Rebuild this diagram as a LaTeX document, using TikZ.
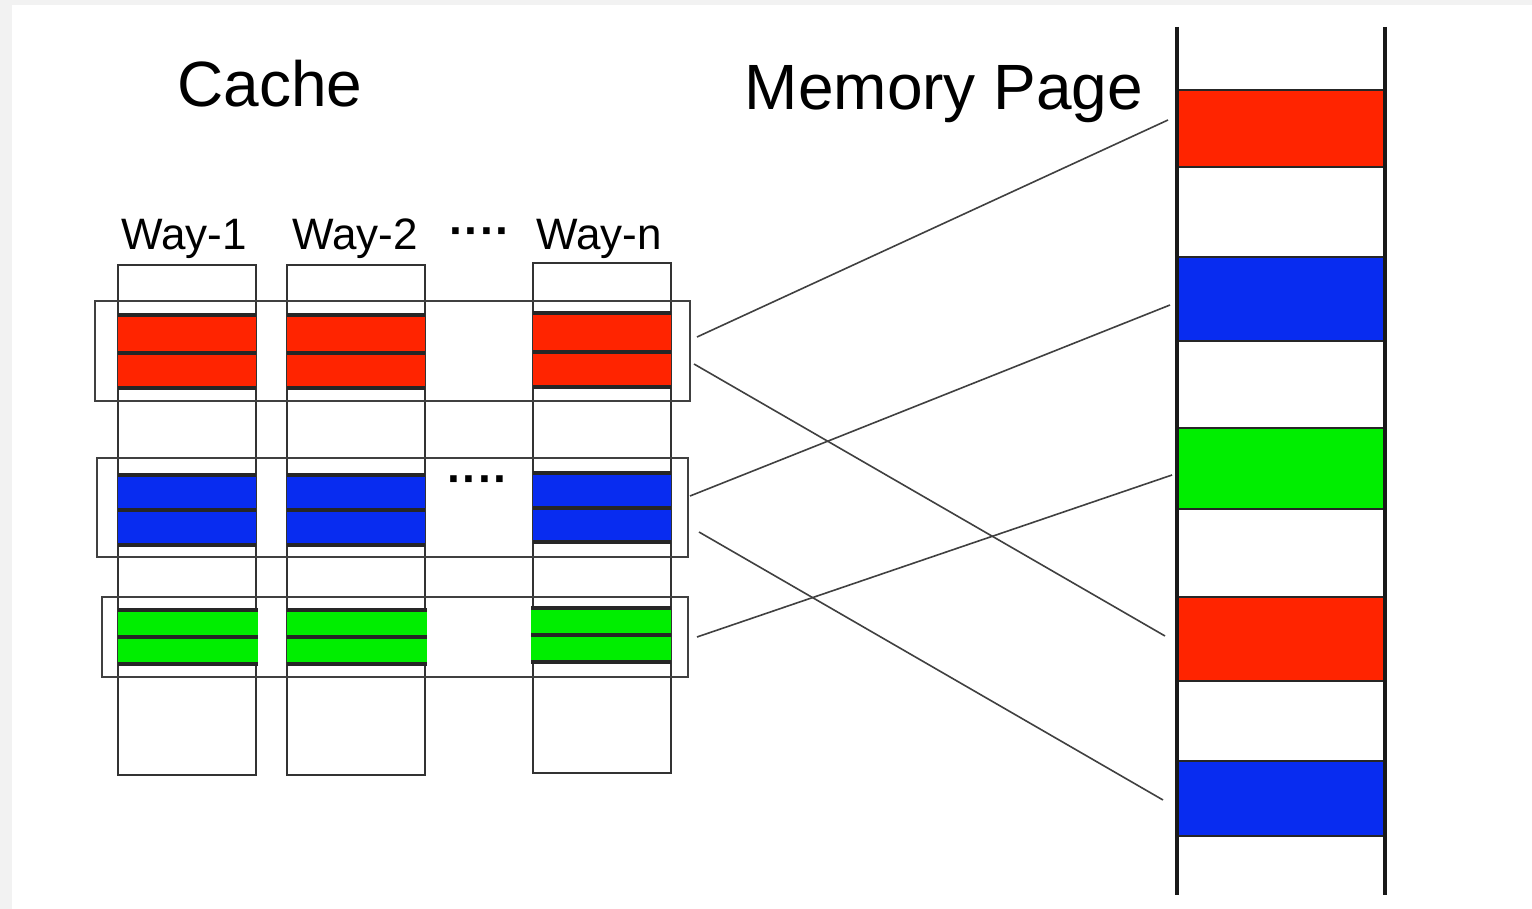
\documentclass[tikz,border=0pt]{standalone}
\usepackage{fontspec}
\setmainfont{Liberation Sans}
\definecolor{cred}{RGB}{255,36,0}
\definecolor{cblue}{RGB}{8,44,240}
\definecolor{cgreen}{RGB}{0,238,0}
\definecolor{frame}{RGB}{242,242,242}
\newcommand{\slotpair}[6]{%
  \fill[#6] (#1,#3) rectangle (#2,#5);
  \draw[slotline] (#1,#3) -- (#2,#3) (#1,#4) -- (#2,#4) (#1,#5) -- (#2,#5);
}
\begin{document}
\begin{tikzpicture}[x=0.5pt,y=-0.5pt,
  way/.style={draw=black!80, line width=1pt},
  rowbox/.style={draw=black!75, line width=1pt},
  slotline/.style={draw=black!85, line width=1.6pt},
  memline/.style={draw=black!90, line width=2pt},
  memblk/.style={draw=black!85, line width=1pt},
  link/.style={draw=black!75, line width=0.8pt},
  title/.style={font=\fontsize{32}{36}\selectfont, anchor=base, inner sep=0pt},
  waylabel/.style={font=\fontsize{22}{26}\selectfont, anchor=base, inner sep=0pt},
  ellip/.style={font=\bfseries\fontsize{23}{26}\selectfont, anchor=base, inner sep=0pt}]
% page background with its thin grey frame
\fill[frame] (0,0) rectangle (1532,909);
\fill[white] (12,5) rectangle (1532,909);
\useasboundingbox (0,0) rectangle (1532,909);

% titles
\node[title] (cache) at (270,107) {Cache};
\node[title] (mem) at (944,110) {Memory Page};

% way labels
\node[waylabel] (w1) at (184,250) {Way-1};
\node[waylabel] (w2) at (355,250) {Way-2};
\node[waylabel] (wn) at (599,250) {Way-n};
\node[ellip] (dtop) at (480,247) {····};
\node[ellip] (dmid) at (478,494) {····};

% cache ways
\draw[way] (118,265) rectangle (256,775);
\draw[way] (287,265) rectangle (425,775);
\draw[way] (533,263) rectangle (671,773);

% cache lines of each set
\slotpair{118}{256}{315}{353}{388}{cred}
\slotpair{287}{425}{315}{353}{388}{cred}
\slotpair{533}{671}{313}{352}{387}{cred}
\slotpair{118}{256}{475}{510}{545}{cblue}
\slotpair{287}{425}{475}{510}{545}{cblue}
\slotpair{533}{671}{473}{508}{542}{cblue}
\slotpair{118}{258}{610}{637}{664}{cgreen}
\slotpair{287}{427}{610}{637}{664}{cgreen}
\slotpair{531}{671}{608}{635}{662}{cgreen}

% sets
\draw[rowbox] (95,301) rectangle (690,401);
\draw[rowbox] (97,458) rectangle (688,557);
\draw[rowbox] (102,597) rectangle (688,677);

% memory page
\draw[memblk, fill=cred]   (1177,90)  rectangle (1385,167);
\draw[memblk, fill=cblue]  (1177,257) rectangle (1385,341);
\draw[memblk, fill=cgreen] (1177,428) rectangle (1385,509);
\draw[memblk, fill=cred]   (1177,597) rectangle (1385,681);
\draw[memblk, fill=cblue]  (1177,761) rectangle (1385,836);
\draw[memline] (1177,27) -- (1177,895);
\draw[memline] (1385,27) -- (1385,895);

% link end points
\coordinate (sr1) at (697,337);
\coordinate (sr2) at (694,364);
\coordinate (sb1) at (690,496);
\coordinate (sb2) at (699,532);
\coordinate (sg1) at (697,637);
\coordinate (pr1) at (1168,120);
\coordinate (pb1) at (1170,305);
\coordinate (pg1) at (1172,475);
\coordinate (pr2) at (1165,636);
\coordinate (pb2) at (1163,800);

% mapping of sets onto memory blocks
\draw[link] (sr1) -- (pr1);
\draw[link] (sr2) -- (pr2);
\draw[link] (sb1) -- (pb1);
\draw[link] (sb2) -- (pb2);
\draw[link] (sg1) -- (pg1);
\end{tikzpicture}
\end{document}
